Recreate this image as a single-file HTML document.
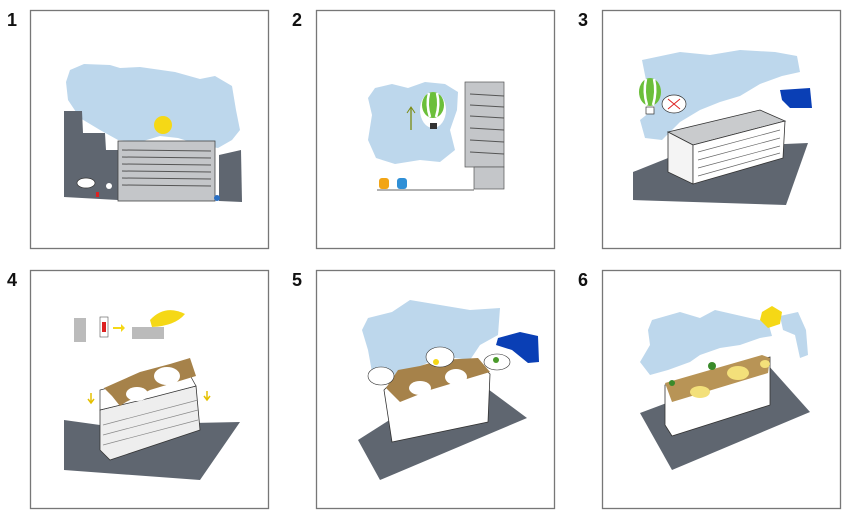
<!DOCTYPE html>
<html><head><meta charset="utf-8"><style>
html,body{margin:0;padding:0;background:#fff}
svg{display:block}
text{font-family:"Liberation Sans",sans-serif;font-weight:bold;font-size:18px;fill:#111}
</style></head><body>
<svg width="850" height="517" viewBox="0 0 850 517" xmlns="http://www.w3.org/2000/svg">
<g fill="none" stroke="#777" stroke-width="1.3">
<rect x="30.5" y="10.5" width="238" height="238"/>
<rect x="316.5" y="10.5" width="238" height="238"/>
<rect x="602.5" y="10.5" width="238" height="238"/>
<rect x="30.5" y="270.5" width="238" height="238"/>
<rect x="316.5" y="270.5" width="238" height="238"/>
<rect x="602.5" y="270.5" width="238" height="238"/>
</g>
<text x="7" y="26">1</text><text x="292" y="26">2</text><text x="578" y="26">3</text>
<text x="7" y="286">4</text><text x="292" y="286">5</text><text x="578" y="286">6</text>

<!-- Panel 1 -->
<path d="M70 70 L84 64 L110 65 L120 68 L140 67 L175 72 L200 79 L215 76 L232 86 L236 110 L240 130 L232 140 L218 148 L200 145 L178 138 L160 136 L140 142 L118 140 L100 130 L80 118 L68 100 L66 82Z" fill="#bdd7ec"/>
<path d="M64 111 L82 111 L83 133 L105 133 L106 150 L118 150 L118 200 L64 197Z" fill="#5f6670"/>
<path d="M219 155 L241 150 L242 202 L219 201Z" fill="#5f6670"/>
<rect x="118" y="141" width="97" height="60" fill="#c4c6c9" stroke="#444" stroke-width="0.8"/>
<g stroke="#555" stroke-width="1"><line x1="122" y1="150" x2="211" y2="151"/><line x1="122" y1="157" x2="211" y2="158"/><line x1="122" y1="164" x2="211" y2="165"/><line x1="122" y1="171" x2="211" y2="172"/><line x1="122" y1="178" x2="211" y2="179"/><line x1="122" y1="185" x2="211" y2="186"/></g>
<circle cx="163" cy="125" r="9" fill="#f5d816"/>
<ellipse cx="86" cy="183" rx="9" ry="5" fill="#fff" stroke="#333" stroke-width="0.7"/>
<circle cx="109" cy="186" r="3" fill="#fff"/><rect x="96" y="192" width="3" height="5" fill="#d22"/>
<circle cx="217" cy="198" r="3" fill="#2a6fc2"/>

<!-- Panel 2 -->
<path d="M375 88 L392 84 L408 88 L425 82 L445 84 L458 92 L457 110 L450 130 L455 150 L440 162 L420 160 L395 164 L376 158 L368 140 L372 115 L368 98Z" fill="#bdd7ec"/>
<ellipse cx="433" cy="110" rx="13" ry="18" fill="#fff"/>
<ellipse cx="433" cy="105" rx="11" ry="13" fill="#6bbf3a"/>
<path d="M429 93 Q426 105 430 117 M437 93 Q440 105 436 117" stroke="#fff" stroke-width="2.5" fill="none"/>
<rect x="430" y="123" width="7" height="6" fill="#333"/>
<line x1="411" y1="130" x2="411" y2="108" stroke="#7a8a10" stroke-width="1.3"/><path d="M407 113 L411 107 L415 113" stroke="#7a8a10" fill="none"/>
<rect x="465" y="82" width="39" height="85" fill="#c4c6c9" stroke="#555" stroke-width="0.7"/>
<rect x="474" y="167" width="30" height="22" fill="#c4c6c9" stroke="#555" stroke-width="0.7"/>
<g stroke="#555"><line x1="470" y1="94" x2="504" y2="96"/><line x1="470" y1="105" x2="504" y2="107"/><line x1="470" y1="116" x2="504" y2="118"/><line x1="470" y1="128" x2="504" y2="130"/><line x1="470" y1="140" x2="504" y2="142"/><line x1="470" y1="152" x2="504" y2="154"/></g>
<path d="M377 190 L474 190" stroke="#333" fill="none" stroke-width="0.8"/>
<rect x="379" y="178" width="10" height="11" rx="3" fill="#f2a516"/><rect x="397" y="178" width="10" height="11" rx="3" fill="#2f8fd6"/>

<!-- Panel 3 -->
<path d="M642 60 L680 52 L710 55 L740 50 L775 52 L797 56 L800 72 L782 76 L760 84 L740 96 L720 102 L700 110 L680 122 L662 140 L645 138 L640 120 L655 108 L648 90Z" fill="#bdd7ec"/>
<path d="M780 90 L810 88 L812 108 L790 108 L782 100Z" fill="#0a3fb5"/>
<path d="M633 172 L693 148 L808 143 L786 205 L633 200Z" fill="#5f6670"/>
<path d="M668 132 L760 110 L785 121 L693 145Z" fill="#c9cbcd" stroke="#333" stroke-width="0.8"/>
<path d="M668 132 L693 145 L693 184 L668 172Z" fill="#f4f4f4" stroke="#333" stroke-width="0.8"/>
<path d="M693 145 L785 121 L783 158 L693 184Z" fill="#fff" stroke="#333" stroke-width="0.8"/>
<g stroke="#666" stroke-width="0.7"><line x1="698" y1="152" x2="780" y2="130"/><line x1="698" y1="160" x2="780" y2="138"/><line x1="698" y1="168" x2="780" y2="146"/><line x1="698" y1="176" x2="780" y2="153"/></g>
<ellipse cx="650" cy="92" rx="11" ry="14" fill="#6bbf3a"/>
<path d="M646 79 Q643 92 647 105 M654 79 Q657 92 653 105" stroke="#fff" stroke-width="2.5" fill="none"/>
<rect x="646" y="107" width="8" height="7" fill="#fff" stroke="#333" stroke-width="0.7"/>
<ellipse cx="674" cy="104" rx="12" ry="9" fill="#fff" stroke="#333" stroke-width="0.7"/>
<path d="M668 99 L680 109 M680 99 L668 109" stroke="#d22"/>

<!-- Panel 4 -->
<path d="M64 420 L100 425 L240 422 L200 480 L64 470Z" fill="#5f6670"/>
<path d="M100 410 L196 386 L200 430 L110 460 L100 450Z" fill="#eee" stroke="#333" stroke-width="0.8"/>
<g stroke="#888" stroke-width="0.7"><line x1="103" y1="425" x2="198" y2="400"/><line x1="103" y1="435" x2="198" y2="410"/><line x1="103" y1="445" x2="198" y2="420"/></g>
<path d="M100 410 L150 398 L196 386 L186 368 L100 390Z" fill="#fff" stroke="#333" stroke-width="0.7"/>
<path d="M104 388 L140 372 L170 364 L190 358 L196 376 L150 390 L126 402 L120 406 L112 396Z" fill="#a6824a"/>
<ellipse cx="167" cy="376" rx="13" ry="9" fill="#fff"/>
<ellipse cx="137" cy="394" rx="11" ry="7" fill="#fff"/>
<path d="M91 393 L91 402 M88 399 L91 403 L94 399" stroke="#e5c000" fill="none" stroke-width="1.5"/>
<path d="M207 391 L207 400 M204 396 L207 400 L210 396" stroke="#e5c000" fill="none" stroke-width="1.5"/>
<rect x="74" y="318" width="12" height="24" fill="#bbb"/>
<rect x="100" y="317" width="8" height="20" fill="#fff" stroke="#555" stroke-width="0.6"/><rect x="102" y="322" width="4" height="10" fill="#d22"/>
<path d="M113 327 L121 327 L121 324 L125 328 L121 332 L121 329 L113 329Z" fill="#f5d816"/>
<rect x="132" y="327" width="32" height="12" fill="#bbb"/>
<path d="M150 320 Q165 304 185 314 Q175 326 152 327Z" fill="#f5d816"/>

<!-- Panel 5 -->
<path d="M368 318 L392 312 L410 300 L440 305 L470 310 L500 308 L498 335 L480 345 L470 360 L440 356 L410 372 L390 385 L372 372 L368 350 L362 330Z" fill="#bdd7ec"/>
<path d="M498 338 L520 332 L538 336 L539 362 L528 363 L512 350 L496 345Z" fill="#0a3fb5"/>
<path d="M358 440 L465 372 L527 418 L380 480Z" fill="#5f6670"/>
<path d="M384 390 L394 380 L480 365 L490 374 L488 422 L392 442Z" fill="#fff" stroke="#333" stroke-width="0.8"/>
<path d="M386 388 L398 370 L420 366 L440 360 L478 358 L490 372 L430 390 L400 402Z" fill="#a6824a"/>
<ellipse cx="420" cy="388" rx="11" ry="7" fill="#fff"/><ellipse cx="456" cy="377" rx="11" ry="8" fill="#fff"/>
<ellipse cx="381" cy="376" rx="13" ry="9" fill="#fff" stroke="#333" stroke-width="0.6"/>
<ellipse cx="440" cy="357" rx="14" ry="10" fill="#fff" stroke="#333" stroke-width="0.6"/>
<ellipse cx="497" cy="362" rx="13" ry="8" fill="#fff" stroke="#333" stroke-width="0.6"/>
<circle cx="436" cy="362" r="3" fill="#f5d816"/><circle cx="496" cy="360" r="3" fill="#4a9a2a"/>

<!-- Panel 6 -->
<path d="M652 320 L680 312 L700 318 L715 310 L750 318 L768 322 L772 336 L760 338 L740 345 L720 348 L700 355 L690 362 L668 370 L650 375 L640 362 L650 345 L648 330Z" fill="#bdd7ec"/>
<path d="M780 316 L798 312 L806 330 L808 355 L800 358 L795 335 L783 330Z" fill="#bdd7ec"/>
<path d="M762 312 L772 306 L782 312 L780 324 L768 328 L760 320Z" fill="#f5d816"/>
<path d="M640 413 L768 365 L810 412 L672 470Z" fill="#5f6670"/>
<path d="M665 385 L770 357 L770 405 L672 436 L665 425Z" fill="#fff" stroke="#333" stroke-width="0.8"/>
<path d="M665 383 L762 355 L770 358 L768 373 L672 402Z" fill="#b89456"/>
<ellipse cx="738" cy="373" rx="11" ry="7" fill="#f3e07a"/><ellipse cx="700" cy="392" rx="10" ry="6" fill="#f3e07a"/><ellipse cx="765" cy="364" rx="5" ry="4" fill="#f3e07a"/>
<circle cx="712" cy="366" r="4" fill="#3a8a2a"/><circle cx="672" cy="383" r="3" fill="#3a8a2a"/>
</svg>
</body></html>
